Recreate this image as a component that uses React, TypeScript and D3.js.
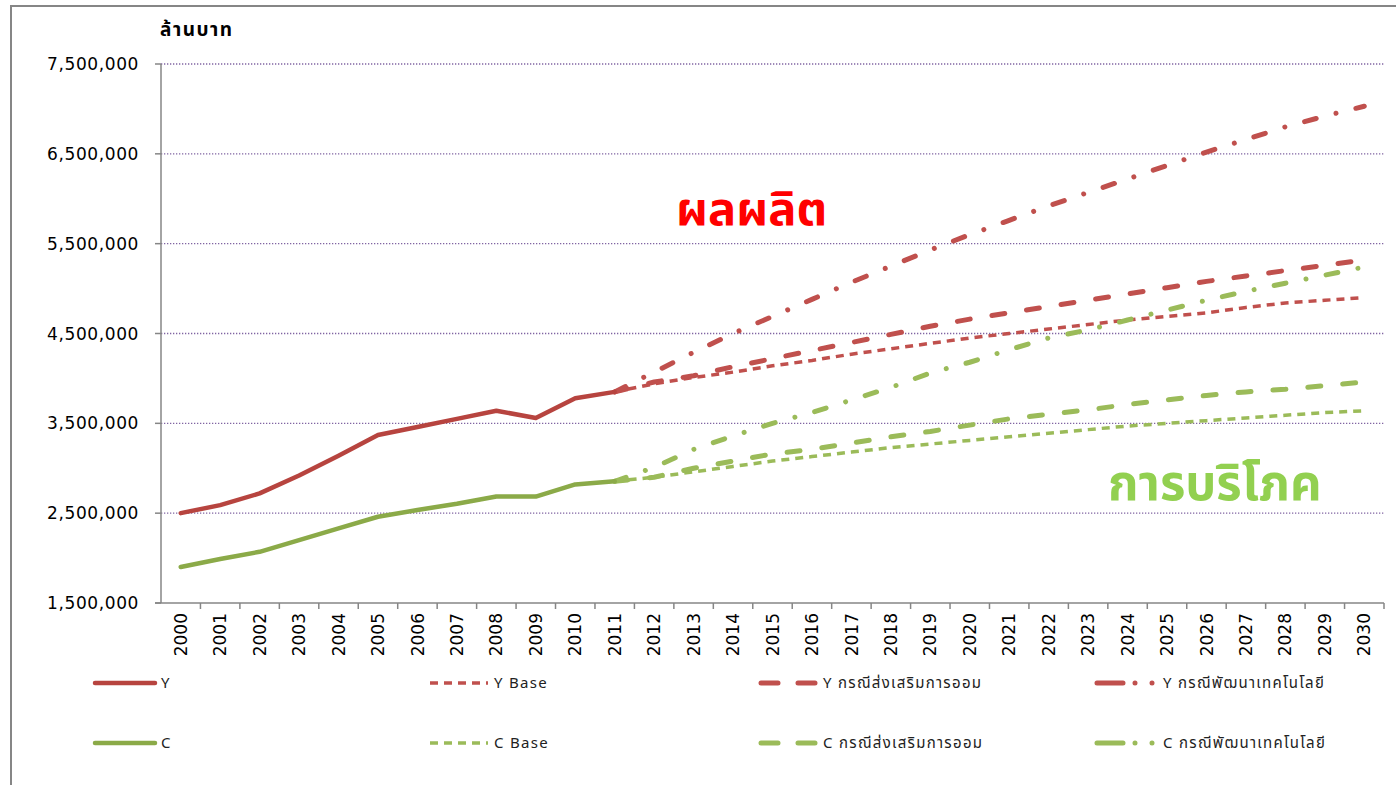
import React from 'react'
import * as d3 from 'd3'

// categories
const years = ['2000', '2001', '2002', '2003', '2004', '2005', '2006', '2007', '2008', '2009', '2010',
  '2011', '2012', '2013', '2014', '2015', '2016', '2017', '2018', '2019', '2020',
  '2021', '2022', '2023', '2024', '2025', '2026', '2027', '2028', '2029', '2030']

// actual values 2000-2011 (ล้านบาท)
const yActual = [2500000, 2590000, 2720000, 2920000, 3140000, 3370000, 3460000, 3550000, 3640000, 3560000, 3780000, 3850000]
const cActual = [1900000, 1990000, 2070000, 2200000, 2330000, 2460000, 2535000, 2605000, 2685000, 2685000, 2820000, 2855000]

// projections 2011-2030
const yBase = [3850000, 3940000, 4010000, 4070000, 4140000, 4200000, 4270000, 4330000, 4390000, 4450000,
  4500000, 4550000, 4600000, 4650000, 4690000, 4730000, 4790000, 4840000, 4870000, 4900000]
const ySave = [3850000, 3960000, 4030000, 4130000, 4220000, 4310000, 4400000, 4490000, 4580000, 4660000,
  4730000, 4800000, 4870000, 4940000, 5010000, 5080000, 5140000, 5200000, 5260000, 5320000]
const yTech = [3850000, 4070000, 4290000, 4500000, 4690000, 4880000, 5070000, 5250000, 5430000, 5600000,
  5760000, 5920000, 6070000, 6220000, 6370000, 6520000, 6660000, 6800000, 6920000, 7030000]
const cBase = [2855000, 2900000, 2960000, 3020000, 3080000, 3130000, 3180000, 3230000, 3270000, 3310000,
  3350000, 3390000, 3430000, 3470000, 3500000, 3530000, 3560000, 3590000, 3620000, 3640000]
const cSave = [2855000, 2900000, 3000000, 3080000, 3160000, 3210000, 3280000, 3350000, 3410000, 3480000,
  3550000, 3600000, 3650000, 3710000, 3760000, 3810000, 3850000, 3880000, 3920000, 3960000]
const cTech = [2855000, 3010000, 3210000, 3360000, 3500000, 3620000, 3760000, 3900000, 4060000, 4180000,
  4320000, 4450000, 4540000, 4650000, 4760000, 4870000, 4970000, 5060000, 5150000, 5240000]

const yTicks = [1500000, 2500000, 3500000, 4500000, 5500000, 6500000, 7500000]

const RED = '#C0504D'
const RED_D = '#B7443F'
const GREEN = '#9BBB59'
const GREEN_D = '#8BAA48'

const SOLID = ''
const SHORT = '8,6'
const LONG = '13,22'
const DASHDOT = '12,20.5,0.01,20.49'

const series = [
  { name: 'Y', values: yActual, start: 0, color: RED_D, dash: SOLID, w: 4.5, cap: 'round' },
  { name: 'Y Base', values: yBase, start: 11, color: RED, dash: SHORT, w: 3.5, cap: 'butt' },
  { name: 'Y กรณีส่งเสริมการออม', values: ySave, start: 11, color: RED, dash: LONG, w: 5, cap: 'round' },
  { name: 'Y กรณีพัฒนาเทคโนโลยี', values: yTech, start: 11, color: RED, dash: DASHDOT, w: 5, cap: 'round' },
  { name: 'C', values: cActual, start: 0, color: GREEN_D, dash: SOLID, w: 4.5, cap: 'round' },
  { name: 'C Base', values: cBase, start: 11, color: GREEN, dash: SHORT, w: 3.5, cap: 'butt' },
  { name: 'C กรณีส่งเสริมการออม', values: cSave, start: 11, color: GREEN, dash: LONG, w: 5, cap: 'round' },
  { name: 'C กรณีพัฒนาเทคโนโลยี', values: cTech, start: 11, color: GREEN, dash: DASHDOT, w: 5, cap: 'round' },
]

const W = 1396
const H = 785
const left = 161
const right = 1384
const top = 64
const bottom = 603

const FONT = "'DejaVu Sans', Verdana, sans-serif"
const THAI = "Tahoma, 'Noto Sans Thai', 'Noto Sans', 'DejaVu Sans', sans-serif"
const NARROW = "'Liberation Sans Narrow', 'Arial Narrow', 'Noto Sans Thai', 'Liberation Sans', sans-serif"

const App = () => {
  const x = d3.scaleBand().domain(years).range([left, right]).padding(0)
  const y = d3.scaleLinear().domain([1500000, 7500000]).range([bottom, top])
  const cx = (i: number) => (x(years[i]) as number) + x.bandwidth() / 2

  const line = (s: typeof series[0]) =>
    d3.line<number>()
      .x((_, i) => cx(i + s.start))
      .y(d => y(d))(s.values) as string

  // draw projections first, actual on top
  const order = [1, 2, 3, 5, 6, 7, 0, 4]

  const legendCols = [95, 430, 761, 1097]
  const legendLen = [60, 58, 56, 60]
  const legendRows = [683, 743]

  return (
    <svg width={W} height={H} style={{ position: 'absolute', left: 0, top: 0, background: '#fff' }}>
      <rect x={11} y={6} width={W + 20} height={H + 20} fill="#fff" stroke="#868686" strokeWidth={2} />

      {/* gridlines */}
      {yTicks.slice(1).map(t => (
        <line key={t} x1={left} x2={right} y1={y(t)} y2={y(t)} stroke="#8064A2" strokeWidth={1.3} strokeDasharray="1.3,1.7" />
      ))}

      {/* y axis */}
      <line x1={left} x2={left} y1={top} y2={bottom} stroke="#868686" strokeWidth={1.5} />
      {yTicks.map(t => (
        <g key={t}>
          <line x1={left - 6} x2={left} y1={y(t)} y2={y(t)} stroke="#868686" strokeWidth={1.5} />
          <text x={left - 22} y={y(t)} dy="0.36em" textAnchor="end" fontFamily={FONT} fontSize={17}
            letterSpacing={0.6} fill="#000">{d3.format(',')(t)}</text>
        </g>
      ))}
      <text x={160} y={36} fontFamily={THAI} fontSize={19} fontWeight="bold" letterSpacing={1.5} fill="#000">ล้านบาท</text>

      {/* x axis */}
      <line x1={left - 6} x2={right} y1={bottom} y2={bottom} stroke="#868686" strokeWidth={1.5} />
      {years.map(yr => (
        <line key={'t' + yr} x1={(x(yr) as number) + x.bandwidth()} x2={(x(yr) as number) + x.bandwidth()}
          y1={bottom} y2={bottom + 6} stroke="#868686" strokeWidth={1.5} />
      ))}
      {years.map((yr, i) => (
        <text key={yr} transform={`translate(${cx(i)},${bottom + 10}) rotate(-90)`} dy="0.36em"
          textAnchor="end" fontFamily={FONT} fontSize={17} fill="#000">{yr}</text>
      ))}

      {/* series */}
      {order.map(k => {
        const s = series[k]
        return (
          <path key={s.name} d={line(s)} fill="none" stroke={s.color} strokeWidth={s.w}
            strokeDasharray={s.dash || undefined} strokeLinecap={s.cap as any} strokeLinejoin="round" />
        )
      })}

      {/* annotations */}
      <text x={676} y={225} fontFamily={THAI} fontSize={47} fontWeight="bold" fill="#FF0000">ผลผลิต</text>
      <text x={1108} y={500} fontFamily={THAI} fontSize={49} fontWeight="bold" fill="#92D050">การบริโภค</text>

      {/* legend */}
      {series.map((s, i) => {
        const lx = legendCols[i % 4]
        const ly = legendRows[Math.floor(i / 4)]
        const len = legendLen[i % 4]
        return (
          <g key={'lg' + s.name}>
            <line x1={lx} x2={lx + len} y1={ly} y2={ly} stroke={s.color} strokeWidth={s.w}
              strokeDasharray={s.dash === DASHDOT ? '26,12,0.01,17,0.01,40' : s.dash === LONG ? '17,20' : s.dash || undefined}
              strokeLinecap={s.cap as any} />
            <text x={lx + len + 6} y={ly} dy="0.36em" fontFamily={NARROW} fontSize={15} letterSpacing={1.3}
              fill="#222">{s.name}</text>
          </g>
        )
      })}
    </svg>
  )
}

export default App
